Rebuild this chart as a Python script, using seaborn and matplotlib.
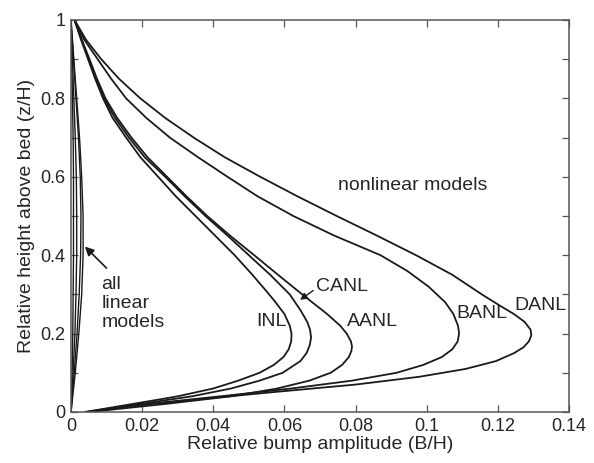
import matplotlib
matplotlib.use("Agg")
import matplotlib.pyplot as plt
import seaborn as sns
import pandas as pd

# ---- data (x = B/H, z = z/H) ----
inl_z = [0, 0.02, 0.04, 0.06, 0.08, 0.10, 0.12, 0.14, 0.16, 0.18, 0.20, 0.22, 0.25, 0.28, 0.30, 0.35,
         0.40, 0.45, 0.50, 0.55, 0.60, 0.65, 0.70, 0.75, 0.80, 0.85, 0.90, 0.95, 1.0]
inl_x = [0.004, 0.017, 0.030, 0.040, 0.047, 0.053, 0.0570, 0.0597, 0.0612, 0.0619, 0.0620, 0.0615,
         0.0600, 0.0575, 0.0557, 0.0510, 0.0460, 0.0405, 0.0350, 0.0295, 0.0245, 0.0195, 0.0155,
         0.0117, 0.0090, 0.0068, 0.0048, 0.0028, 0.001]

canl_z = [0, 0.02, 0.04, 0.06, 0.08, 0.10, 0.13, 0.15, 0.17, 0.19, 0.21, 0.23, 0.26, 0.30, 0.35, 0.40,
          0.45, 0.50, 0.55, 0.60, 0.65, 0.70, 0.75, 0.80, 0.85, 0.90, 0.95, 1.0]
canl_x = [0.004, 0.019, 0.034, 0.045, 0.053, 0.0595, 0.0645, 0.0662, 0.0671, 0.0675, 0.0672, 0.0664,
          0.0645, 0.0615, 0.0560, 0.0500, 0.0440, 0.0378, 0.0320, 0.0265, 0.0207, 0.0163, 0.0124,
          0.0093, 0.0070, 0.0050, 0.0030, 0.001]

aanl_z = [0, 0.02, 0.04, 0.06, 0.08, 0.10, 0.12, 0.14, 0.155, 0.167, 0.18, 0.20, 0.22, 0.25, 0.30, 0.35,
          0.40, 0.45, 0.50, 0.55, 0.60, 0.65, 0.70, 0.75, 0.80, 0.85, 0.90, 0.95, 1.0]
aanl_x = [0.005, 0.026, 0.045, 0.058, 0.067, 0.0730, 0.0762, 0.0781, 0.0788, 0.0790, 0.0787, 0.0775,
          0.0757, 0.0720, 0.0650, 0.0582, 0.0515, 0.0447, 0.0383, 0.0325, 0.0270, 0.0215, 0.0170,
          0.0130, 0.0097, 0.0073, 0.0052, 0.0030, 0.001]

banl_z = [0, 0.02, 0.04, 0.06, 0.08, 0.10, 0.12, 0.14, 0.16, 0.18, 0.20, 0.22, 0.25, 0.28, 0.32, 0.36,
          0.40, 0.45, 0.50, 0.55, 0.60, 0.65, 0.70, 0.75, 0.80, 0.85, 0.90, 0.95, 1.0]
banl_x = [0.005, 0.021, 0.042, 0.062, 0.079, 0.0915, 0.0990, 0.1042, 0.1072, 0.1087, 0.1091, 0.1088,
          0.1075, 0.1052, 0.1005, 0.0945, 0.0870, 0.0740, 0.0625, 0.0525, 0.0440, 0.0357, 0.0278,
          0.0212, 0.0155, 0.0113, 0.0075, 0.0037, 0.001]

danl_z = [0, 0.015, 0.03, 0.05, 0.07, 0.09, 0.11, 0.13, 0.15, 0.165, 0.18, 0.195, 0.21, 0.23, 0.25, 0.27,
          0.30, 0.35, 0.40, 0.45, 0.50, 0.55, 0.60, 0.65, 0.70, 0.75, 0.80, 0.85, 0.90, 0.95, 1.0]
danl_x = [0.005, 0.017, 0.033, 0.056, 0.080, 0.098, 0.111, 0.1195, 0.1245, 0.1272, 0.1287, 0.1294,
          0.1292, 0.1275, 0.1245, 0.1208, 0.1155, 0.1072, 0.0970, 0.0860, 0.0747, 0.0637, 0.0532,
          0.0432, 0.0345, 0.0265, 0.0195, 0.0135, 0.0085, 0.0042, 0.001]

lin_z = [0, 0.1, 0.2, 0.3, 0.4, 0.5, 0.6, 0.7, 0.8, 0.9, 1.0]
lin1_x = [0, 0.0012, 0.0022, 0.0030, 0.0034, 0.0034, 0.0030, 0.0024, 0.0016, 0.0008, 0]
lin2_x = [0, 0.0009, 0.0017, 0.0023, 0.0027, 0.0028, 0.0026, 0.0021, 0.0014, 0.0007, 0]
lin3_x = [0, 0.0006, 0.0011, 0.0014, 0.0016, 0.0016, 0.0015, 0.0012, 0.0008, 0.0004, 0]
lin4_x = [0, 0.0003, 0.0005, 0.0006, 0.0007, 0.0007, 0.0007, 0.0006, 0.0004, 0.0002, 0]

x_ticks = [0, 0.02, 0.04, 0.06, 0.08, 0.10, 0.12, 0.14]
x_tick_labels = ["0", "0.02", "0.04", "0.06", "0.08", "0.1", "0.12", "0.14"]
y_ticks = [0, 0.2, 0.4, 0.6, 0.8, 1.0]
y_tick_labels = ["0", "0.2", "0.4", "0.6", "0.8", "1"]

curves = {
    "INL": (inl_x, inl_z), "CANL": (canl_x, canl_z), "AANL": (aanl_x, aanl_z),
    "BANL": (banl_x, banl_z), "DANL": (danl_x, danl_z),
    "lin1": (lin1_x, lin_z), "lin2": (lin2_x, lin_z), "lin3": (lin3_x, lin_z), "lin4": (lin4_x, lin_z),
}
rows = []
for name, (xs, zs) in curves.items():
    for i, (xv, zv) in enumerate(zip(xs, zs)):
        rows.append({"model": name, "x": xv, "z": zv, "order": i})
df = pd.DataFrame(rows)

sns.set_theme(style="ticks")
plt.rcParams["font.family"] = ["Liberation Sans", "DejaVu Sans"]

fig = plt.figure(figsize=(5.94, 4.63), dpi=100)
ax = fig.add_axes([71 / 594, 51 / 463, 498 / 594, 392 / 463])

for name in curves:
    sub = df[df["model"] == name]
    sns.lineplot(data=sub, x="x", y="z", sort=False, estimator=None, color="#1a1a1a",
                 lw=1.3 if not name.startswith("lin") else 1.0, ax=ax, legend=False)

ax.set_xlim(0, 0.14)
ax.set_ylim(0, 1)
ax.set_xticks(x_ticks)
ax.set_xticklabels(x_tick_labels)
ax.set_yticks(y_ticks)
ax.set_yticklabels(y_tick_labels)
ax.set_yticks([0.1, 0.3, 0.5, 0.7, 0.9], minor=True)
ax.tick_params(which="both", direction="in", top=True, right=True, length=5, width=0.9,
               color="#555555", labelsize=13, pad=4)
for s in ax.spines.values():
    s.set_visible(True)
    s.set_color("#555555")
    s.set_linewidth(1.1)

ax.set_xlabel("Relative bump amplitude (B/H)", fontsize=14, labelpad=1)
ax.set_ylabel("Relative height above bed (z/H)", fontsize=14, labelpad=4)

tfs = 14
ax.text(0.0751, 0.578, "nonlinear models", fontsize=tfs, va="center", ha="left")
ax.text(0.0522, 0.232, "INL", fontsize=tfs, va="center", ha="left")
ax.text(0.0689, 0.319, "CANL", fontsize=tfs, va="center", ha="left")
ax.text(0.0775, 0.231, "AANL", fontsize=tfs, va="center", ha="left")
ax.text(0.1082, 0.251, "BANL", fontsize=tfs, va="center", ha="left")
ax.text(0.1246, 0.272, "DANL", fontsize=tfs, va="center", ha="left")
ax.text(0.0086, 0.276, "all\nlinear\nmodels", fontsize=tfs, va="center", ha="left",
        linespacing=1.15)

ax.annotate("", xy=(0.0644, 0.286), xytext=(0.0681, 0.310),
            arrowprops=dict(arrowstyle="-|>", color="#1a1a1a", lw=1.0, mutation_scale=10,
                            shrinkA=0, shrinkB=0))
ax.annotate("", xy=(0.0039, 0.422), xytext=(0.0100, 0.367),
            arrowprops=dict(arrowstyle="-|>", color="#1a1a1a", lw=1.2, mutation_scale=13,
                            shrinkA=0, shrinkB=0))

fig.savefig("out.png", dpi=100)
